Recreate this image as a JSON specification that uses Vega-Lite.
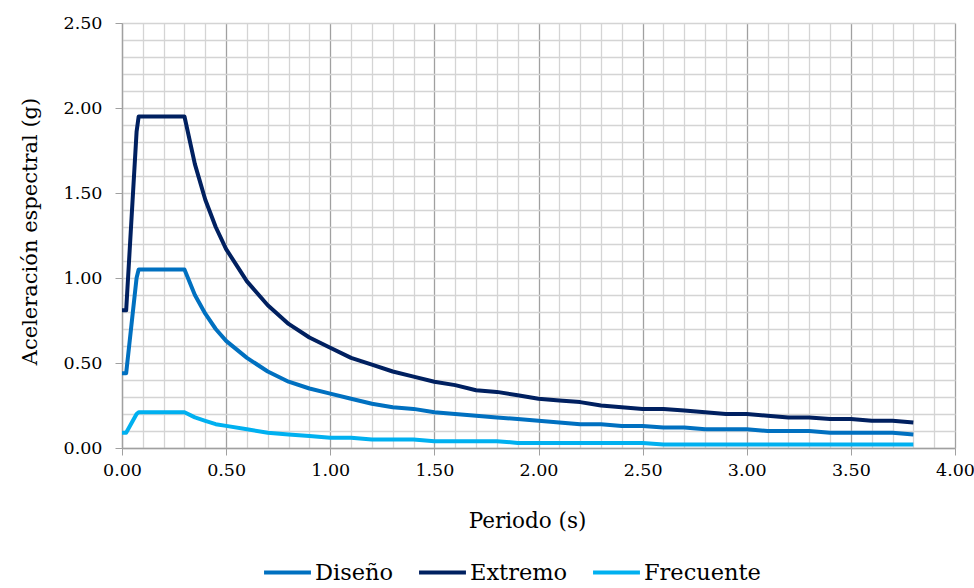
{
  "$schema": "https://vega.github.io/schema/vega-lite/v6.json",
  "width": 833,
  "height": 425,
  "autosize": {"type": "none"},
  "padding": {"left": 122, "top": 23, "right": 19, "bottom": 140},
  "background": "white",
  "config": {
    "font": "DejaVu Serif",
    "view": {"stroke": null}
  },
  "data": {
    "values": [
      {"T": 0.0, "Diseño": 0.44, "Extremo": 0.81, "Frecuente": 0.09},
      {"T": 0.02, "Diseño": 0.44, "Extremo": 0.81, "Frecuente": 0.09},
      {"T": 0.07, "Diseño": 1.0, "Extremo": 1.86, "Frecuente": 0.2},
      {"T": 0.08, "Diseño": 1.05, "Extremo": 1.95, "Frecuente": 0.21},
      {"T": 0.1, "Diseño": 1.05, "Extremo": 1.95, "Frecuente": 0.21},
      {"T": 0.2, "Diseño": 1.05, "Extremo": 1.95, "Frecuente": 0.21},
      {"T": 0.3, "Diseño": 1.05, "Extremo": 1.95, "Frecuente": 0.21},
      {"T": 0.35, "Diseño": 0.9, "Extremo": 1.67, "Frecuente": 0.18},
      {"T": 0.4, "Diseño": 0.79, "Extremo": 1.46, "Frecuente": 0.16},
      {"T": 0.45, "Diseño": 0.7, "Extremo": 1.3, "Frecuente": 0.14},
      {"T": 0.5, "Diseño": 0.63, "Extremo": 1.17, "Frecuente": 0.13},
      {"T": 0.6, "Diseño": 0.53, "Extremo": 0.98, "Frecuente": 0.11},
      {"T": 0.7, "Diseño": 0.45, "Extremo": 0.84, "Frecuente": 0.09},
      {"T": 0.8, "Diseño": 0.39, "Extremo": 0.73, "Frecuente": 0.08},
      {"T": 0.9, "Diseño": 0.35, "Extremo": 0.65, "Frecuente": 0.07},
      {"T": 1.0, "Diseño": 0.32, "Extremo": 0.59, "Frecuente": 0.06},
      {"T": 1.1, "Diseño": 0.29, "Extremo": 0.53, "Frecuente": 0.06},
      {"T": 1.2, "Diseño": 0.26, "Extremo": 0.49, "Frecuente": 0.05},
      {"T": 1.3, "Diseño": 0.24, "Extremo": 0.45, "Frecuente": 0.05},
      {"T": 1.4, "Diseño": 0.23, "Extremo": 0.42, "Frecuente": 0.05},
      {"T": 1.5, "Diseño": 0.21, "Extremo": 0.39, "Frecuente": 0.04},
      {"T": 1.6, "Diseño": 0.2, "Extremo": 0.37, "Frecuente": 0.04},
      {"T": 1.7, "Diseño": 0.19, "Extremo": 0.34, "Frecuente": 0.04},
      {"T": 1.8, "Diseño": 0.18, "Extremo": 0.33, "Frecuente": 0.04},
      {"T": 1.9, "Diseño": 0.17, "Extremo": 0.31, "Frecuente": 0.03},
      {"T": 2.0, "Diseño": 0.16, "Extremo": 0.29, "Frecuente": 0.03},
      {"T": 2.1, "Diseño": 0.15, "Extremo": 0.28, "Frecuente": 0.03},
      {"T": 2.2, "Diseño": 0.14, "Extremo": 0.27, "Frecuente": 0.03},
      {"T": 2.3, "Diseño": 0.14, "Extremo": 0.25, "Frecuente": 0.03},
      {"T": 2.4, "Diseño": 0.13, "Extremo": 0.24, "Frecuente": 0.03},
      {"T": 2.5, "Diseño": 0.13, "Extremo": 0.23, "Frecuente": 0.03},
      {"T": 2.6, "Diseño": 0.12, "Extremo": 0.23, "Frecuente": 0.02},
      {"T": 2.7, "Diseño": 0.12, "Extremo": 0.22, "Frecuente": 0.02},
      {"T": 2.8, "Diseño": 0.11, "Extremo": 0.21, "Frecuente": 0.02},
      {"T": 2.9, "Diseño": 0.11, "Extremo": 0.2, "Frecuente": 0.02},
      {"T": 3.0, "Diseño": 0.11, "Extremo": 0.2, "Frecuente": 0.02},
      {"T": 3.1, "Diseño": 0.1, "Extremo": 0.19, "Frecuente": 0.02},
      {"T": 3.2, "Diseño": 0.1, "Extremo": 0.18, "Frecuente": 0.02},
      {"T": 3.3, "Diseño": 0.1, "Extremo": 0.18, "Frecuente": 0.02},
      {"T": 3.4, "Diseño": 0.09, "Extremo": 0.17, "Frecuente": 0.02},
      {"T": 3.5, "Diseño": 0.09, "Extremo": 0.17, "Frecuente": 0.02},
      {"T": 3.6, "Diseño": 0.09, "Extremo": 0.16, "Frecuente": 0.02},
      {"T": 3.7, "Diseño": 0.09, "Extremo": 0.16, "Frecuente": 0.02},
      {"T": 3.8, "Diseño": 0.08, "Extremo": 0.15, "Frecuente": 0.02}
    ]
  },
  "transform": [
    {"fold": ["Diseño", "Extremo", "Frecuente"], "as": ["serie", "valor"]}
  ],
  "mark": {"type": "line", "strokeWidth": 4, "strokeJoin": "round", "strokeCap": "butt"},
  "encoding": {
    "x": {
      "field": "T",
      "type": "quantitative",
      "scale": {"domain": [0, 4], "nice": false, "zero": false},
      "axis": {
        "title": "Periodo (s)",
        "values": [0,0.1,0.2,0.3,0.4,0.5,0.6,0.7,0.8,0.9,1,1.1,1.2,1.3,1.4,1.5,1.6,1.7,1.8,1.9,2,2.1,2.2,2.3,2.4,2.5,2.6,2.7,2.8,2.9,3,3.1,3.2,3.3,3.4,3.5,3.6,3.7,3.8,3.9,4],
        "labelExpr": "round(datum.value*10) % 5 === 0 ? format(datum.value, '.2f') : ''",
        "labelFont": "DejaVu Serif",
        "labelFontSize": 17.5,
        "labelColor": "#000000",
        "labelPadding": 6,
        "labelFlush": false,
        "labelOverlap": false,
        "grid": true,
        "gridColor": {"condition": {"test": "round(datum.value*10) % 5 === 0", "value": "#A0A0A0"}, "value": "#D4D4D4"},
        "gridWidth": 1.3,
        "ticks": true,
        "tickSize": 7,
        "tickColor": "#A0A0A0",
        "tickOpacity": {"condition": {"test": "round(datum.value*10) % 5 === 0", "value": 1}, "value": 0},
        "domainColor": "#A0A0A0",
        "domainWidth": 1.3,
        "titleFont": "DejaVu Serif",
        "titleFontSize": 21.5,
        "titleFontWeight": "normal",
        "titleColor": "#000000",
        "titleX": 405,
        "titleY": 73,
        "titleBaseline": "middle"
      }
    },
    "y": {
      "field": "valor",
      "type": "quantitative",
      "scale": {"domain": [0, 2.5], "nice": false},
      "axis": {
        "title": "Aceleración espectral (g)",
        "values": [0,0.1,0.2,0.3,0.4,0.5,0.6,0.7,0.8,0.9,1,1.1,1.2,1.3,1.4,1.5,1.6,1.7,1.8,1.9,2,2.1,2.2,2.3,2.4,2.5],
        "labelExpr": "round(datum.value*10) % 5 === 0 ? format(datum.value, '.2f') : ''",
        "labelFont": "DejaVu Serif",
        "labelFontSize": 17.5,
        "labelColor": "#000000",
        "labelPadding": 13,
        "labelFlush": false,
        "labelOverlap": false,
        "grid": true,
        "gridColor": "#D4D4D4",
        "gridWidth": 1.3,
        "ticks": true,
        "tickSize": 7,
        "tickColor": "#A0A0A0",
        "tickOpacity": {"condition": {"test": "round(datum.value*10) % 5 === 0", "value": 1}, "value": 0},
        "domainColor": "#A0A0A0",
        "domainWidth": 1.3,
        "titleFont": "DejaVu Serif",
        "titleFontSize": 21,
        "titleFontWeight": "normal",
        "titleColor": "#000000",
        "titleX": -92,
        "titleY": 208,
        "titleBaseline": "middle",
        "titleAngle": -90
      }
    },
    "color": {
      "field": "serie",
      "type": "nominal",
      "scale": {"domain": ["Diseño", "Extremo", "Frecuente"], "range": ["#0070C0", "#002060", "#00B0F0"]},
      "legend": {
        "title": null,
        "orient": "none",
        "direction": "horizontal",
        "legendX": 140,
        "legendY": 524,
        "symbolType": "stroke",
        "symbolSize": 2200,
        "symbolStrokeWidth": 4,
        "labelFont": "DejaVu Serif",
        "labelFontSize": 22.5,
        "labelColor": "#000000",
        "labelOffset": 2,
        "columnPadding": 17,
        "labelLimit": 300
      }
    }
  }
}
